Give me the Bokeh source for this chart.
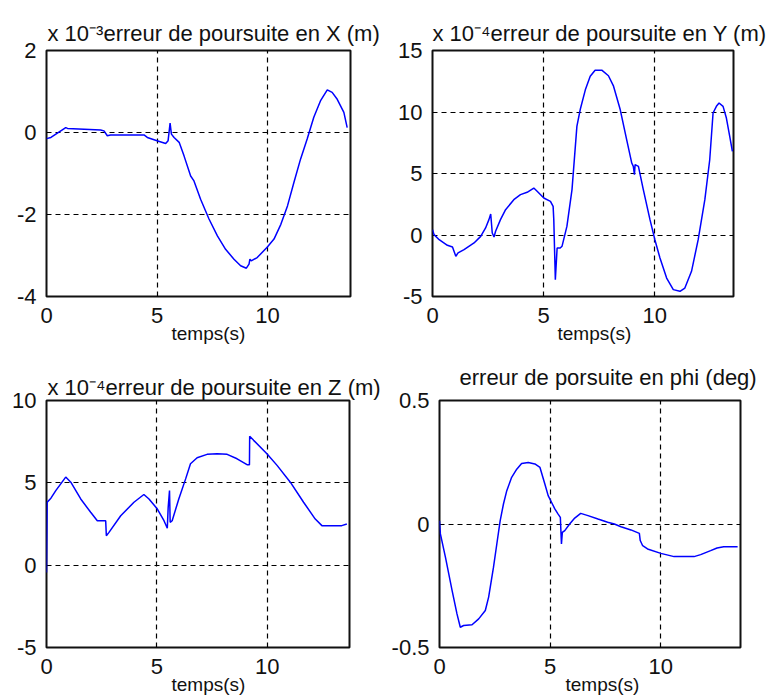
from bokeh.plotting import figure
from bokeh.models import Range1d, FixedTicker, Title
from bokeh.layouts import row, column
from bokeh.embed import file_html
from bokeh.resources import INLINE

# ---------------- data (values as plotted, scaled units) ----------------
# erreur de poursuite en X (x 1e-3 m)
t_x = [0, 0.2, 0.87, 0.95, 1.7, 2.45, 2.6, 2.75, 2.9, 4.41, 4.56, 5.0, 5.39, 5.5, 5.59,
       5.65, 5.77, 6.0, 6.22, 6.52, 6.67, 6.97, 7.35, 7.73, 8.1, 8.48, 8.78, 9.04, 9.16,
       9.2, 9.26, 9.53, 9.98, 10.29, 10.6, 10.9, 11.19, 11.49, 11.79, 12.09, 12.39, 12.7,
       12.92, 13.15, 13.45, 13.6]
err_x = [-0.15, -0.12, 0.12, 0.1, 0.08, 0.06, 0.04, -0.08, -0.06, -0.06, -0.12, -0.2, -0.27,
         -0.2, 0.23, -0.04, -0.12, -0.24, -0.57, -1.06, -1.18, -1.63, -2.11, -2.52, -2.85,
         -3.09, -3.25, -3.31, -3.21, -3.09, -3.13, -3.05, -2.8, -2.6, -2.24, -1.79, -1.22,
         -0.65, -0.16, 0.37, 0.77, 1.04, 0.98, 0.81, 0.49, 0.12]

# erreur de poursuite en Y (x 1e-4 m)
t_y = [0, 0.07, 0.3, 0.67, 0.9, 1.05, 1.15, 1.42, 1.87, 2.17, 2.39, 2.54, 2.62, 2.69, 2.77,
       2.84, 3.06, 3.29, 3.66, 3.96, 4.26, 4.56, 4.71, 5.01, 5.31, 5.43, 5.46, 5.53, 5.61,
       5.75, 5.83, 6.05, 6.28, 6.5, 6.65, 6.88, 7.1, 7.32, 7.62, 7.92, 8.15, 8.45, 8.74,
       8.97, 9.04, 9.09, 9.12, 9.27, 9.49, 9.79, 10.01, 10.24, 10.54, 10.84, 11.14, 11.36,
       11.66, 11.96, 12.26, 12.48, 12.63, 12.78, 12.9, 13.08, 13.23, 13.38, 13.5]
err_y = [0.43, 0.03, -0.38, -0.84, -0.98, -1.73, -1.46, -1.19, -0.65, -0.11, 0.57, 1.25,
         1.71, 0.16, -0.16, 0.3, 1.25, 2.06, 2.87, 3.28, 3.47, 3.82, 3.55, 3.01, 2.74, 2.33,
         1.25, -3.63, -1.06, -1.06, -0.92, 0.7, 3.69, 8.83, 10.2, 11.8, 12.9, 13.4, 13.4,
         12.95, 12.1, 10.2, 7.75, 5.85, 5.58, 4.9, 5.72, 5.58, 3.69, 1.25, -0.38, -1.87,
         -3.5, -4.44, -4.58, -4.31, -2.95, -0.38, 2.87, 6.12, 9.92, 10.46, 10.73, 10.46,
         9.51, 8.02, 6.8]

# erreur de poursuite en Z (x 1e-4 m)
t_z = [0, 0.03, 0.2, 0.42, 0.87, 1.1, 1.55, 2.0, 2.3, 2.68, 2.71, 2.83, 3.36, 3.96, 4.41,
       4.64, 5.02, 5.32, 5.47, 5.51, 5.57, 5.6, 5.69, 5.99, 6.3, 6.52, 6.82, 7.27, 7.73,
       8.18, 8.63, 9.08, 9.19, 9.2, 9.38, 9.98, 10.44, 11.04, 11.64, 12.17, 12.47, 13.37,
       13.6]
err_z = [-0.45, 3.82, 4.07, 4.53, 5.35, 5.04, 4.02, 3.21, 2.7, 2.7, 1.79, 1.99, 3.0, 3.82,
         4.29, 4.02, 3.41, 2.7, 2.24, 3.52, 4.53, 2.6, 2.7, 4.02, 5.24, 6.16, 6.52, 6.73,
         6.77, 6.73, 6.46, 6.1, 6.1, 7.83, 7.58, 6.77, 6.06, 5.04, 3.82, 2.8, 2.4, 2.4, 2.5]

# erreur de porsuite en phi (deg)
t_phi = [0, 0.04, 0.27, 0.57, 0.79, 0.94, 1.09, 1.47, 1.77, 2.07, 2.22, 2.44, 2.59, 2.74,
         2.89, 3.04, 3.26, 3.49, 3.71, 4.01, 4.31, 4.54, 4.76, 4.91, 5.06, 5.21, 5.36,
         5.46, 5.51, 5.55, 5.66, 5.88, 6.11, 6.38, 6.71, 7.16, 7.6, 7.9, 8.2, 8.65, 9.03,
         9.07, 9.18, 9.4, 10.0, 10.6, 11.5, 11.8, 12.25, 12.54, 12.84, 13.47]
err_phi = [0.013, -0.04, -0.135, -0.27, -0.364, -0.418, -0.411, -0.408, -0.384, -0.35,
           -0.296, -0.175, -0.081, 0.013, 0.081, 0.135, 0.189, 0.222, 0.245, 0.249, 0.243,
           0.229, 0.162, 0.115, 0.088, 0.061, 0.04, 0.027, -0.081, -0.034, -0.027, 0.0,
           0.024, 0.043, 0.034, 0.02, 0.007, 0.0, -0.011, -0.024, -0.038, -0.067, -0.088,
           -0.101, -0.119, -0.132, -0.132, -0.124, -0.108, -0.097, -0.092, -0.092]

# ticks and labels
x_ticks = [0, 5, 10]
x_tick_labels = ["0", "5", "10"]
yx_ticks = [-4, -2, 0, 2]
yx_tick_labels = ["-4", "-2", "0", "2"]
yy_ticks = [-5, 0, 5, 10, 15]
yy_tick_labels = ["-5", "0", "5", "10", "15"]
yz_ticks = [-5, 0, 5, 10]
yz_tick_labels = ["-5", "0", "5", "10"]
yphi_ticks = [-0.5, 0, 0.5]
yphi_tick_labels = ["-0.5", "0", "0.5"]

titles = ["x 10\u207b\u00b3erreur de poursuite en X (m)",
          "x 10\u207b\u2074erreur de poursuite en Y (m)",
          "x 10\u207b\u2074erreur de poursuite en Z (m)",
          "erreur de porsuite en phi (deg)"]
xlabel = "temps(s)"

FONT = "Liberation Sans"
INK = "#111111"


def make_fig(origin, frame, xmax, yr, yticks, ylabels, width, height,
             title, title_off, title_standoff, xlab_off):
    ox, oy = origin
    fx, fy, fw, fh = frame
    bl = fx - ox
    bt = fy - oy
    br = width - bl - fw
    bb = height - bt - fh
    p = figure(width=width, height=height, x_range=Range1d(0, xmax),
               y_range=Range1d(yr[0], yr[1]), output_backend="svg",
               toolbar_location=None, min_border_left=bl, min_border_right=br,
               min_border_top=bt, min_border_bottom=bb)
    p.background_fill_color = "white"
    p.border_fill_color = "white"
    p.outline_line_color = INK
    p.outline_line_width = 2
    p.xaxis.ticker = FixedTicker(ticks=x_ticks)
    p.xaxis.major_label_overrides = dict(zip(x_ticks, x_tick_labels))
    p.yaxis.ticker = FixedTicker(ticks=yticks)
    p.yaxis.major_label_overrides = dict(zip(yticks, ylabels))
    for ax in (p.xaxis, p.yaxis):
        ax.axis_line_color = None
        ax.major_tick_line_color = None
        ax.minor_tick_line_color = None
        ax.major_tick_out = 0
        ax.major_tick_in = 0
        ax.major_label_text_font = FONT
        ax.major_label_text_font_size = "22px"
        ax.major_label_text_color = INK
    p.xaxis.major_label_standoff = 11
    p.yaxis.major_label_standoff = 10
    for g in (p.xgrid, p.ygrid):
        g.grid_line_color = "black"
        g.grid_line_dash = "5 4"
        g.grid_line_width = 1.2
        g.grid_line_alpha = 1.0
    p.xgrid.ticker = FixedTicker(ticks=x_ticks)
    p.ygrid.ticker = FixedTicker(ticks=yticks)

    p.title.text = title
    p.title.align = "left"
    p.title.offset = title_off
    p.title.standoff = title_standoff
    p.title.text_font = FONT
    p.title.text_font_size = "22px"
    p.title.text_font_style = "normal"
    p.title.text_color = INK

    p.add_layout(Title(text=xlabel, align="left", offset=xlab_off, standoff=-10,
                       text_font=FONT, text_font_size="19px",
                       text_font_style="normal", text_color=INK), "below")
    return p


W1, W2 = 388, 378
H1, H2 = 348, 350

p1 = make_fig((0, 0), (46, 50, 304, 246), 13.75, (-4, 2), yx_ticks, yx_tick_labels,
              W1, H1, titles[0], 1, 9, 125)
p2 = make_fig((388, 0), (432, 50, 301, 246), 13.55, (-5, 15), yy_ticks, yy_tick_labels,
              W2, H1, titles[1], 0, 9, 125)
p3 = make_fig((0, 348), (46, 400, 303, 247), 13.72, (-5, 10), yz_ticks, yz_tick_labels,
              W1, H2, titles[2], 1, 1, 125)
p4 = make_fig((388, 348), (437, 400, 303, 247), 13.6, (-0.5, 0.5), yphi_ticks,
              yphi_tick_labels, W2, H2, titles[3], 20, 22, 126)

for p, t, e in ((p1, t_x, err_x), (p2, t_y, err_y), (p3, t_z, err_z), (p4, t_phi, err_phi)):
    p.line(t, e, line_color="#0000ff", line_width=1.5)

layout = column(row(p1, p2), row(p3, p4))

with open("out.html", "w") as f:
    f.write(file_html(layout, INLINE))
